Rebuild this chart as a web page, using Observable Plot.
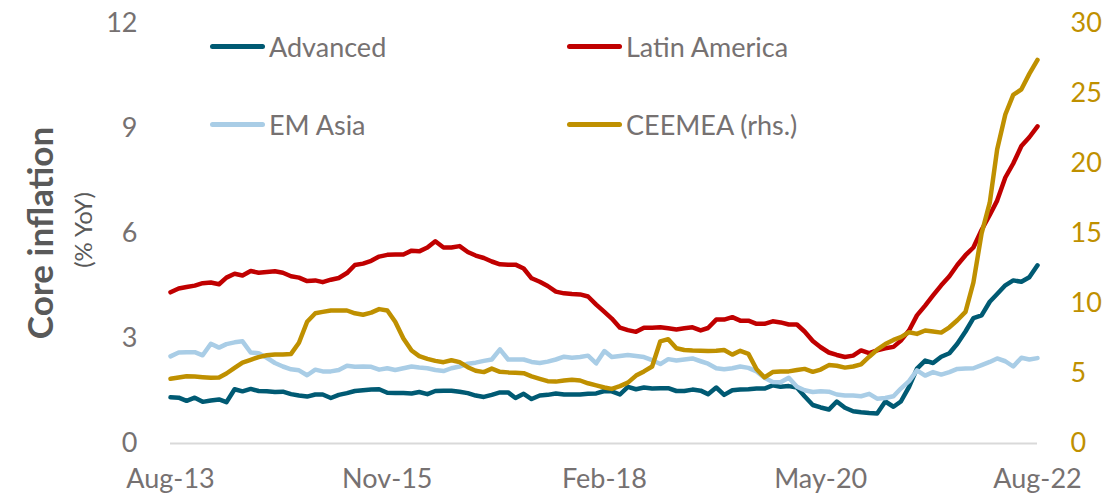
<!DOCTYPE html>
<html>
<head>
<meta charset="utf-8">
<script src="https://cdn.jsdelivr.net/npm/d3@7"></script>
<script src="https://cdn.jsdelivr.net/npm/@observablehq/plot@0.6"></script>
<style>
  html, body { margin: 0; padding: 0; background: #fff; }
  #wrap { position: relative; width: 1107px; height: 499px; font-family: Lato, "Open Sans", sans-serif; }
  #wrap svg { position: absolute; left: 0; top: 0; }
  .ytitle { position: absolute; white-space: nowrap; transform: translate(-50%, -50%) rotate(-90deg); color: #595959; }
  .leg { position: absolute; display: flex; align-items: center; font-size: 27px; color: #767171; white-space: nowrap; }
  .leg .sw { width: 55px; height: 5px; border-radius: 3px; margin-right: 4px; }
</style>
</head>
<body>
<div id="wrap"></div>
<script>
// ---- data (monthly, Aug-13 .. Aug-22) ----
const startMonth = "2013-08";
const endMonth = "2022-08";
const seriesNames = ["Advanced", "Latin America", "EM Asia", "CEEMEA (rhs.)"];
const seriesColors = ["#005a73", "#c00000", "#a9cde6", "#bf9000"];

const advanced = [1.32,1.31,1.22,1.31,1.19,1.23,1.26,1.18,1.55,1.49,1.56,1.50,1.49,1.47,1.48,1.41,1.37,1.34,1.40,1.40,1.30,1.39,1.44,1.50,1.52,1.54,1.55,1.45,1.44,1.44,1.43,1.47,1.41,1.50,1.51,1.51,1.48,1.44,1.37,1.33,1.39,1.46,1.46,1.30,1.42,1.27,1.37,1.39,1.43,1.40,1.40,1.40,1.42,1.43,1.50,1.49,1.40,1.62,1.55,1.60,1.57,1.58,1.58,1.50,1.50,1.54,1.51,1.41,1.60,1.39,1.52,1.54,1.55,1.57,1.57,1.66,1.62,1.64,1.60,1.35,1.10,1.03,0.97,1.20,1.02,0.92,0.89,0.87,0.86,1.20,1.05,1.20,1.62,2.14,2.37,2.30,2.48,2.58,2.85,3.20,3.58,3.66,4.05,4.27,4.52,4.66,4.62,4.75,5.09];
const latinAmerica = [4.32,4.43,4.47,4.51,4.58,4.60,4.55,4.74,4.85,4.80,4.93,4.88,4.90,4.92,4.88,4.78,4.74,4.64,4.66,4.61,4.68,4.73,4.87,5.10,5.14,5.22,5.34,5.39,5.40,5.40,5.51,5.49,5.60,5.78,5.60,5.60,5.64,5.47,5.37,5.30,5.20,5.12,5.11,5.11,5.00,4.72,4.62,4.50,4.34,4.29,4.27,4.26,4.20,3.97,3.76,3.57,3.31,3.24,3.19,3.31,3.31,3.32,3.29,3.26,3.29,3.32,3.23,3.30,3.54,3.54,3.61,3.51,3.51,3.42,3.42,3.49,3.46,3.40,3.40,3.20,2.93,2.75,2.60,2.53,2.47,2.51,2.66,2.58,2.66,2.72,2.76,2.94,3.23,3.66,3.94,4.23,4.52,4.78,5.10,5.38,5.60,6.10,6.53,6.94,7.60,8.00,8.50,8.75,9.06];
const emAsia = [2.49,2.60,2.61,2.61,2.52,2.85,2.74,2.84,2.89,2.92,2.60,2.58,2.45,2.30,2.20,2.12,2.09,1.95,2.11,2.06,2.06,2.10,2.22,2.19,2.20,2.19,2.11,2.15,2.10,2.15,2.20,2.17,2.15,2.10,2.07,2.15,2.20,2.28,2.31,2.36,2.40,2.69,2.40,2.40,2.40,2.33,2.30,2.34,2.40,2.48,2.45,2.47,2.51,2.29,2.64,2.47,2.50,2.53,2.50,2.47,2.38,2.27,2.41,2.37,2.40,2.43,2.35,2.28,2.15,2.12,2.15,2.20,2.16,2.06,1.88,1.76,1.75,1.88,1.62,1.52,1.47,1.49,1.48,1.40,1.37,1.37,1.35,1.42,1.28,1.30,1.35,1.57,1.78,2.09,1.94,2.04,1.97,2.04,2.13,2.14,2.15,2.24,2.33,2.43,2.35,2.20,2.45,2.40,2.44];
const ceemea = [4.62,4.72,4.81,4.78,4.74,4.70,4.72,5.00,5.40,5.78,5.98,6.17,6.30,6.36,6.36,6.40,7.20,8.70,9.30,9.40,9.50,9.50,9.50,9.30,9.20,9.35,9.60,9.50,8.70,7.50,6.64,6.24,6.05,5.90,5.81,5.95,5.81,5.45,5.20,5.10,5.35,5.12,5.08,5.06,5.02,4.80,4.62,4.45,4.42,4.50,4.55,4.50,4.30,4.15,4.00,3.90,4.10,4.35,4.85,5.15,5.50,7.30,7.45,6.80,6.68,6.64,6.62,6.60,6.62,6.68,6.35,6.62,6.40,5.30,4.72,5.10,5.14,5.15,5.25,5.33,5.12,5.28,5.60,5.55,5.42,5.50,5.65,6.20,6.70,7.10,7.40,7.60,7.95,7.83,8.07,8.00,7.92,8.30,8.80,9.40,11.50,15.00,17.20,21.00,23.50,24.90,25.30,26.40,27.40];

const xTickLabels = ["Aug-13", "Nov-15", "Feb-18", "May-20", "Aug-22"];
const leftTicks = [0, 3, 6, 9, 12];
const rightTicks = [0, 5, 10, 15, 20, 25, 30];
const leftMax = 12, rightMax = 30;

// ---- build table ----
const months = d3.utcMonth.range(new Date(startMonth + "-01T00:00Z"), d3.utcMonth.offset(new Date(endMonth + "-01T00:00Z"), 1));
const ratio = leftMax / rightMax;
const allSeries = [advanced, latinAmerica, emAsia, ceemea];
const rows = [];
allSeries.forEach((arr, s) => {
  arr.forEach((v, i) => rows.push({date: months[i], series: seriesNames[s], value: v, rhs: s === 3}));
});
const parse = d3.utcParse("%b-%y");
const fmt = d3.utcFormat("%b-%y");
const xTicks = xTickLabels.map(parse);

const W = 1107, H = 499;
const chart = Plot.plot({
  width: W, height: H,
  marginLeft: 170, marginRight: 70, marginTop: 23, marginBottom: 56,
  style: {fontFamily: "Lato, 'Open Sans', sans-serif", fontSize: "27px", background: "transparent"},
  x: {type: "utc", domain: [months[0], months[months.length - 1]]},
  y: {domain: [0, leftMax]},
  color: {domain: seriesNames, range: seriesColors},
  marks: [
    Plot.ruleY([0], {stroke: "#d9d9d9", strokeWidth: 2}),
    Plot.axisX({ticks: xTicks, tickFormat: fmt, tickSize: 0, tickPadding: 25, fill: "#767171", label: null}),
    Plot.axisY({ticks: leftTicks, tickSize: 0, tickPadding: 33, fill: "#767171", label: null, anchor: "left"}),
    Plot.axisY({ticks: rightTicks.map(v => v * ratio), tickFormat: d => d3.format("d")(Math.round(d / ratio)), tickSize: 0, tickPadding: 33, fill: "#bf9000", label: null, anchor: "right", textAnchor: "start"}),
    Plot.line(rows, {x: "date", y: d => d.rhs ? d.value * ratio : d.value, z: "series", stroke: "series", strokeWidth: 4.5, strokeLinejoin: "round", strokeLinecap: "round"})
  ]
});
const wrap = document.getElementById("wrap");
wrap.appendChild(chart);

// y titles
const t1 = document.createElement("div");
t1.className = "ytitle"; t1.textContent = "Core inflation";
t1.style.cssText += "left:39px;top:233px;font-size:35px;font-weight:bold;";
wrap.appendChild(t1);
const t2 = document.createElement("div");
t2.className = "ytitle"; t2.textContent = "(% YoY)";
t2.style.cssText += "left:82px;top:230px;font-size:24px;";
wrap.appendChild(t2);

// legend
const legPos = [[210, 46], [567, 46], [210, 124], [567, 124]];
seriesNames.forEach((name, i) => {
  const el = document.createElement("div");
  el.className = "leg";
  el.style.left = legPos[i][0] + "px";
  el.style.top = (legPos[i][1] - 18) + "px";
  el.style.height = "36px";
  const sw = document.createElement("div");
  sw.className = "sw"; sw.style.background = seriesColors[i];
  const tx = document.createElement("span"); tx.textContent = name;
  el.appendChild(sw); el.appendChild(tx);
  wrap.appendChild(el);
});
</script>
</body>
</html>
